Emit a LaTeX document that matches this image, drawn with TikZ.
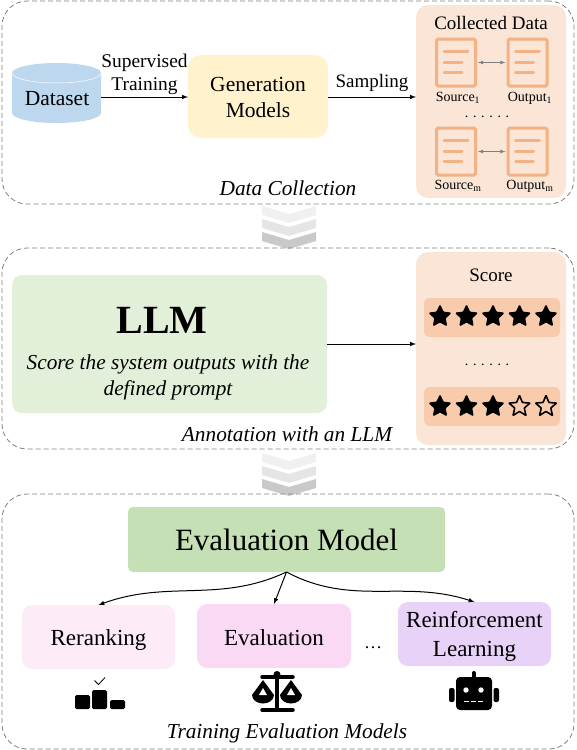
\documentclass[tikz,border=0pt]{standalone}
\usepackage{amsmath}
\usepackage{fontspec}
\setmainfont{Liberation Serif}
\usepackage{xcolor}
\usetikzlibrary{shapes, shapes.geometric, arrows}

\definecolor{panelorange}{HTML}{FBE5D6}
\definecolor{barorange}{HTML}{F8CBAD}
\definecolor{docorange}{HTML}{F4B183}
\definecolor{dataBlue}{HTML}{BDD7EE}
\definecolor{genYellow}{HTML}{FFF2CC}
\definecolor{llmGreen}{HTML}{E2F0D9}
\definecolor{evalGreen}{HTML}{C5E0B4}
\definecolor{rerankPink}{HTML}{FDEBF7}
\definecolor{evalPink}{HTML}{FAD9F5}
\definecolor{rlPurple}{HTML}{E8D2F8}

\tikzset{
  panel/.style={draw=gray, dashed, dash pattern=on 5pt off 3pt, line width=0.8pt, rounded corners=25pt, inner sep=0pt},
  softbox/.style={rectangle, rounded corners=10pt, inner sep=0pt, outer sep=0pt, align=center},
  doc/.style={draw=docorange, line width=3pt, rounded corners=1.5pt, minimum width=39pt, minimum height=47pt, inner sep=0pt, outer sep=1.5pt},
  docline/.style={docorange, line width=3pt, line cap=round},
  link/.style={-latex, line width=1pt, black},
  pair/.style={latex-latex, draw=gray, line width=0.8pt, shorten >=1pt, shorten <=1pt},
  starfull/.style={star, star points=5, star point ratio=2.05, fill=black, draw=black, line width=1pt, rounded corners=0.8pt, minimum size=22.5pt, inner sep=0pt},
  starempty/.style={star, star points=5, star point ratio=2.2, draw=black, line width=1.6pt, rounded corners=0.5pt, minimum size=22pt, inner sep=0pt},
  txt/.style={font=\fontsize{21.5}{26}\selectfont, align=center, inner sep=0pt},
  smalltxt/.style={font=\fontsize{14}{16}\selectfont, inner sep=0pt},
  captext/.style={font=\fontsize{21.3}{26}\selectfont\itshape, inner sep=0pt}
}

% stack of three chevrons between two panels
\newcommand{\chevronstack}[1]{
  \foreach \dy/\shade in {0/black!6, 13/black!10, 26/black!21} {
    \fill[\shade] (262,{-#1-\dy}) -- (289,{-#1-\dy-8}) -- (316,{-#1-\dy}) -- (316,{-#1-\dy-9}) -- (289,{-#1-\dy-17}) -- (262,{-#1-\dy-9}) -- cycle;
  }
}

\begin{document}
\begin{tikzpicture}[x=1pt, y=1pt]
\useasboundingbox (0,0) rectangle (576,-750);

% Data collection
\node[panel, minimum width=572pt, minimum height=203pt] (collectpanel) at (288,-102.5) {};
\fill[dataBlue] (12,-73) arc[start angle=180, end angle=0, x radius=44.5pt, y radius=10pt] -- (101,-113) arc[start angle=0, end angle=-180, x radius=44.5pt, y radius=10pt] -- cycle;
\draw[white, line width=0.5pt] (12,-73) arc[start angle=180, end angle=360, x radius=44.5pt, y radius=10pt];
\node[txt, minimum width=89pt, minimum height=60pt, outer sep=0pt] (dataset) at (56.5,-93) {};
\node[txt] (datasetlabel) at (57,-99) {Dataset};
\node[softbox, fill=genYellow, minimum width=140pt, minimum height=83pt, rounded corners=13pt, txt] (genmodels) at (258,-96.5) {\rule{0pt}{16.5pt}Generation\\Models};
\node[softbox, fill=panelorange, minimum width=150pt, minimum height=193pt, rounded corners=12pt] (collected) at (491,-101.5) {};
\node[txt, font=\fontsize{19}{22}\selectfont] (collectedlabel) at (491,-23) {Collected Data};

% Source and output documents
\foreach \name/\x/\y in {srcone/456/-62.5, outone/527.5/-62.5, srcm/456/-151.5, outm/527.5/-151.5} {
  \node[doc] (\name) at (\x,\y) {};
  \draw[docline] (\x-12,\y+11) -- (\x+12,\y+11);
  \draw[docline] (\x-12,\y) -- (\x+6,\y);
  \draw[docline] (\x-12,\y-10) -- (\x+6,\y-10);
}
\draw[pair] (srcone) -- (outone);
\draw[pair] (srcm) -- (outm);
\node[smalltxt] (srconelabel) at (458,-98) {Source\textsubscript{1}};
\node[smalltxt] (outonelabel) at (530,-98) {Output\textsubscript{1}};
\node[smalltxt] (srcmlabel) at (458,-186) {Source\textsubscript{m}};
\node[smalltxt] (outmlabel) at (530,-186) {Output\textsubscript{m}};
\node[smalltxt] (collectdots) at (487,-117) {. . . . . .};

\draw[link] (dataset.east |- 0,-97) coordinate (dataout) -- (dataout -| genmodels.west) node[midway, above=2pt, txt, font=\fontsize{19.4}{23}\selectfont] (trainlabel) {Supervised\\Training};
\draw[link] (genmodels.east |- 0,-97) coordinate (genout) -- (genout -| collected.west) node[midway, above=5pt, txt, font=\fontsize{19}{22}\selectfont] (samplelabel) {Sampling};
\node[captext] (collectcap) at (288,-188) {Data Collection};

\chevronstack{206}

% Annotation with an LLM
\node[panel, minimum width=572pt, minimum height=201pt] (annotpanel) at (288,-348.5) {};
\node[softbox, fill=llmGreen, minimum width=315pt, minimum height=138pt] (llm) at (169.5,-344) {};
\node[font=\fontsize{40}{44}\selectfont\bfseries, inner sep=0pt] (llmlabel) at (162,-320) {LLM};
\node[captext, align=center] (llmprompt) at (168,-377) {Score the system outputs with the\\defined prompt};
\node[softbox, fill=panelorange, minimum width=150pt, minimum height=193pt, rounded corners=12pt] (scorepanel) at (491,-348.5) {};
\node[font=\fontsize{19}{22}\selectfont, inner sep=0pt] (scorelabel) at (491,-275) {Score};
\node[softbox, fill=barorange, minimum width=136pt, minimum height=39pt, rounded corners=6pt] (barone) at (492,-317.5) {};
\node[softbox, fill=barorange, minimum width=136pt, minimum height=39pt, rounded corners=6pt] (bartwo) at (492,-406.5) {};
\node[smalltxt] (scoredots) at (487,-365) {. . . . . .};
\foreach \i/\x in {1/440, 2/466.5, 3/493, 4/519.5, 5/546} {
  \node[starfull] (topstar\i) at (\x,-316.5) {};
}
\foreach \i/\x/\kind in {1/440/starfull, 2/466.5/starfull, 3/493/starfull, 4/519.5/starempty, 5/546/starempty} {
  \node[\kind] (lowstar\i) at (\x,-406.5) {};
}
\draw[link] (llm.east) -- (llm.east -| scorepanel.west);
\node[captext] (annotcap) at (287,-434) {Annotation with an LLM};

\chevronstack{453}

% Training evaluation models
\node[panel, minimum width=572pt, minimum height=255pt] (trainpanel) at (288,-621.5) {};
\node[softbox, fill=evalGreen, minimum width=317pt, minimum height=65pt, rounded corners=5pt, font=\fontsize{31}{34}\selectfont] (evalmodel) at (286.5,-539.5) {Evaluation Model};
\node[softbox, fill=rerankPink, minimum width=153pt, minimum height=64pt, txt, font=\fontsize{23}{29}\selectfont, text height=16pt, text depth=0pt] (rerank) at (98.5,-637) {Reranking};
\node[softbox, fill=evalPink, minimum width=154pt, minimum height=64pt, txt, font=\fontsize{23}{29}\selectfont, text height=18pt, text depth=0pt] (evaluation) at (274,-636) {Evaluation};
\node[softbox, fill=rlPurple, minimum width=153pt, minimum height=64pt, txt, font=\fontsize{23}{29}\selectfont] (rlearn) at (474.5,-634) {\rule{0pt}{20pt}Reinforcement\\Learning};
\node[txt, font=\fontsize{18}{20}\selectfont] (boxdots) at (373,-648) {\ldots};
\draw[link] (evalmodel.south) to[out=-155, in=20] (rerank.north);
\draw[link] (evalmodel.south) -- (evaluation.north);
\draw[link] (evalmodel.south) to[out=-28, in=162] (rlearn.north);

% Podium icon
\fill[rounded corners=1.5pt] (75,-695) rectangle (90,-709);
\fill[rounded corners=1.5pt] (92,-690) rectangle (107,-709);
\fill[rounded corners=1.5pt] (110,-700) rectangle (125,-709);
\draw[line width=0.8pt] (94.5,-680.5) -- (98.5,-684.5) -- (105,-677.5);

% Scale icon
\draw[line width=3.5pt, line cap=round] (262,-677) -- (293,-677);
\draw[line width=3.5pt, line cap=round] (262,-710) -- (293,-710);
\draw[line width=3.5pt] (277,-675) -- (277,-709);
\fill (277,-674.5) circle (3.5pt);
\foreach \px in {263, 291} {
  \fill (\px-11,-695) -- (\px,-680) -- (\px+11,-695) arc[start angle=0, end angle=-180, x radius=11pt, y radius=8.5pt] -- cycle;
  \fill[white] (\px-4,-695) -- (\px,-688) -- (\px+4,-695) -- cycle;
}

% Robot icon
\fill[rounded corners=4pt] (456,-677) rectangle (492,-710);
\draw[line width=4pt, line cap=round] (473.5,-673) -- (473.5,-678);
\fill[rounded corners=2pt] (449,-688) rectangle (454.5,-702);
\fill[rounded corners=2pt] (493.5,-688) rectangle (499,-702);
\fill[white] (466,-690) circle (2.7pt);
\fill[white] (481,-690) circle (2.7pt);
\foreach \mx in {464, 471, 478} {
  \fill[white] (\mx,-700.5) rectangle (\mx+5,-702);
}

\node[captext] (traincap) at (287,-733) {Training Evaluation Models};
\end{tikzpicture}
\end{document}
